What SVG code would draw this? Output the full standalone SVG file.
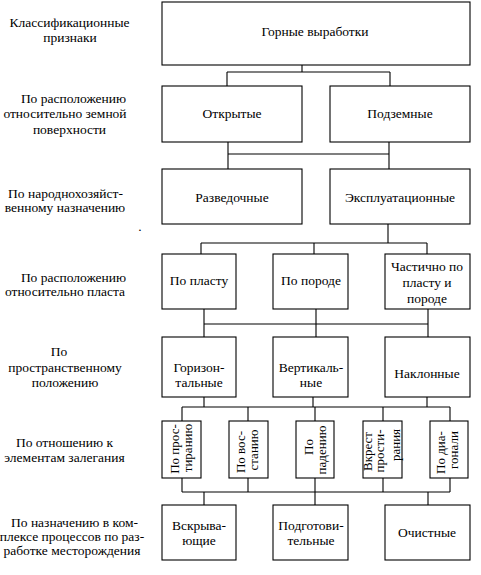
<svg xmlns="http://www.w3.org/2000/svg" width="481" height="575" viewBox="0 0 481 575">
<defs>
<style>
.b{fill:#fff;stroke:#000;stroke-width:1.1}
.c{fill:none;stroke:#000;stroke-width:1.1}
</style>
</defs>
<rect width="481" height="575" fill="#fff"/>
<g id="connectors">
<path class="c" d="M302,65V72M227,72H390M227,72V86M390,72V86"/>
<path class="c" d="M228,142V169M389,142V169M228,154H389"/>
<path class="c" d="M388,224V243M201,243H427M201,243V254M314,243V254M427,243V254"/>
<path class="c" d="M204,309V337M316,309V337M428,309V337M204,324H428"/>
<path class="c" d="M204,397V407M313,397V407M427,397V407M182,407H450M182,407V421M248,407V421M315,407V421M383,407V421M450,407V421"/>
<path class="c" d="M182,478V492M248,478V492M315,478V492M383,478V492M450,478V492M182,492H450M204,492V505M315,492V505M428,492V505"/>
</g>
<g id="labels">
<text font-family="Liberation Serif" font-size="13.5" text-anchor="middle" x="69.5" y="27">Классификационные</text>
<text font-family="Liberation Serif" font-size="13.5" text-anchor="middle" x="70" y="42">признаки</text>
<text font-family="Liberation Serif" font-size="13.5" text-anchor="middle" x="73.5" y="103">По расположению</text>
<text font-family="Liberation Serif" font-size="13.5" text-anchor="middle" x="65" y="118">относительно земной</text>
<text font-family="Liberation Serif" font-size="13.5" text-anchor="middle" x="69.5" y="134">поверхности</text>
<text font-family="Liberation Serif" font-size="13.5" text-anchor="middle" x="65.5" y="198">По народнохозяйст-</text>
<text font-family="Liberation Serif" font-size="13.5" text-anchor="middle" x="65" y="212">венному назначению</text>
<text font-family="Liberation Serif" font-size="13.5" text-anchor="middle" x="140" y="231">.</text>
<text font-family="Liberation Serif" font-size="13.5" text-anchor="middle" x="73.5" y="282">По расположению</text>
<text font-family="Liberation Serif" font-size="13.5" text-anchor="middle" x="65" y="295.5">относительно пласта</text>
<text font-family="Liberation Serif" font-size="13.5" text-anchor="middle" x="59" y="356">По</text>
<text font-family="Liberation Serif" font-size="13.5" text-anchor="middle" x="65" y="372">пространственному</text>
<text font-family="Liberation Serif" font-size="13.5" text-anchor="middle" x="65" y="387">положению</text>
<text font-family="Liberation Serif" font-size="13.5" text-anchor="middle" x="64.5" y="447">По отношению к</text>
<text font-family="Liberation Serif" font-size="13.5" text-anchor="middle" x="64.5" y="462">элементам залегания</text>
<text font-family="Liberation Serif" font-size="13.5" text-anchor="middle" x="74.5" y="527">По назначению в ком-</text>
<text font-family="Liberation Serif" font-size="13.5" text-anchor="middle" x="72" y="541">плексе процессов по раз-</text>
<text font-family="Liberation Serif" font-size="13.5" text-anchor="middle" x="72" y="555">работке месторождения</text>
</g>
<g id="n-root"><rect class="b" x="162" y="2" width="308" height="63"/><text font-family="Liberation Serif" font-size="13.5" text-anchor="middle" x="315" y="36">Горные выработки</text></g>
<g id="n-open"><rect class="b" x="162" y="86" width="140" height="56"/><text font-family="Liberation Serif" font-size="13.5" text-anchor="middle" x="232" y="118">Открытые</text></g>
<g id="n-under"><rect class="b" x="330" y="86" width="140" height="56"/><text font-family="Liberation Serif" font-size="13.5" text-anchor="middle" x="400" y="118">Подземные</text></g>
<g id="n-razv"><rect class="b" x="162" y="169" width="140" height="55"/><text font-family="Liberation Serif" font-size="13.5" text-anchor="middle" x="232" y="201.5">Разведочные</text></g>
<g id="n-expl"><rect class="b" x="330" y="169" width="140" height="55"/><text font-family="Liberation Serif" font-size="13.5" text-anchor="middle" x="400" y="201.5">Эксплуатационные</text></g>
<g id="n-plast"><rect class="b" x="162" y="254" width="74" height="55"/><text font-family="Liberation Serif" font-size="13.5" text-anchor="middle" x="199" y="284.5">По пласту</text></g>
<g id="n-poroda"><rect class="b" x="273" y="254" width="75" height="55"/><text font-family="Liberation Serif" font-size="13.5" text-anchor="middle" x="311" y="284.5">По породе</text></g>
<g id="n-chast"><rect class="b" x="385" y="254" width="85" height="55"/><text font-family="Liberation Serif" font-size="13.5" text-anchor="middle" x="427" y="270.5">Частично по</text><text font-family="Liberation Serif" font-size="13.5" text-anchor="middle" x="427" y="286.5">пласту и</text><text font-family="Liberation Serif" font-size="13.5" text-anchor="middle" x="427" y="302.5">породе</text></g>
<g id="n-gor"><rect class="b" x="162" y="337" width="74" height="60"/><text font-family="Liberation Serif" font-size="13.5" text-anchor="middle" x="199" y="371.5">Горизон-</text><text font-family="Liberation Serif" font-size="13.5" text-anchor="middle" x="199" y="386.5">тальные</text></g>
<g id="n-vert"><rect class="b" x="273" y="337" width="75" height="60"/><text font-family="Liberation Serif" font-size="13.5" text-anchor="middle" x="311" y="371.5">Вертикаль-</text><text font-family="Liberation Serif" font-size="13.5" text-anchor="middle" x="311" y="386.5">ные</text></g>
<g id="n-nakl"><rect class="b" x="385" y="337" width="85" height="60"/><text font-family="Liberation Serif" font-size="13.5" text-anchor="middle" x="427" y="377.5">Наклонные</text></g>
<g id="n-prost"><rect class="b" x="162" y="421" width="39" height="57"/><text font-family="Liberation Serif" font-size="13" text-anchor="middle" transform="translate(178.5,449) rotate(-90)">По прос-</text><text font-family="Liberation Serif" font-size="13" text-anchor="middle" transform="translate(191.5,448) rotate(-90)">тиранию</text></g>
<g id="n-vosst"><rect class="b" x="229" y="421" width="39" height="57"/><text font-family="Liberation Serif" font-size="13" text-anchor="middle" transform="translate(244.5,452) rotate(-90)">По вос-</text><text font-family="Liberation Serif" font-size="13" text-anchor="middle" transform="translate(257.5,450) rotate(-90)">станию</text></g>
<g id="n-pad"><rect class="b" x="296" y="421" width="38" height="57"/><text font-family="Liberation Serif" font-size="13" text-anchor="middle" transform="translate(312.5,447) rotate(-90)">По</text><text font-family="Liberation Serif" font-size="13" text-anchor="middle" transform="translate(326,450) rotate(-90)">падению</text></g>
<g id="n-vkrest"><rect class="b" x="363" y="421" width="39" height="57"/><text font-family="Liberation Serif" font-size="13" text-anchor="middle" transform="translate(371.5,451.5) rotate(-90)">Вкрест</text><text font-family="Liberation Serif" font-size="13" text-anchor="middle" transform="translate(383.5,451) rotate(-90)">прости-</text><text font-family="Liberation Serif" font-size="13" text-anchor="middle" transform="translate(400,445) rotate(-90)">рания</text></g>
<g id="n-diag"><rect class="b" x="430" y="421" width="38" height="57"/><text font-family="Liberation Serif" font-size="13" text-anchor="middle" transform="translate(444.5,452.5) rotate(-90)">По диа-</text><text font-family="Liberation Serif" font-size="13" text-anchor="middle" transform="translate(457.5,450) rotate(-90)">гонали</text></g>
<g id="n-vskr"><rect class="b" x="162" y="505" width="74" height="55"/><text font-family="Liberation Serif" font-size="13.5" text-anchor="middle" x="199" y="529.5">Вскрыва-</text><text font-family="Liberation Serif" font-size="13.5" text-anchor="middle" x="199" y="544.5">ющие</text></g>
<g id="n-podg"><rect class="b" x="273" y="505" width="75" height="55"/><text font-family="Liberation Serif" font-size="13.5" text-anchor="middle" x="311" y="529.5">Подготови-</text><text font-family="Liberation Serif" font-size="13.5" text-anchor="middle" x="311" y="544.5">тельные</text></g>
<g id="n-ochist"><rect class="b" x="385" y="505" width="85" height="55"/><text font-family="Liberation Serif" font-size="13.5" text-anchor="middle" x="427" y="536.5">Очистные</text></g>
</svg>
